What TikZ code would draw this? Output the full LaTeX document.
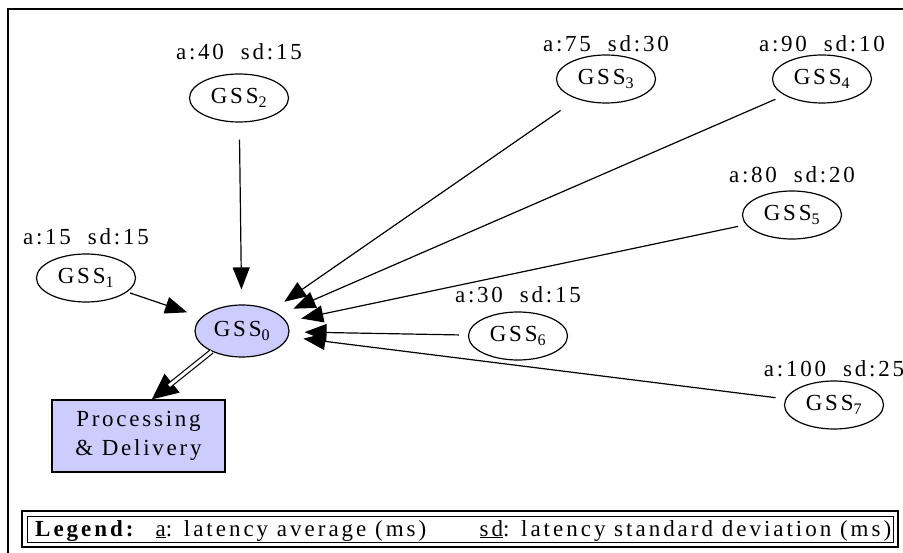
\documentclass[tikz,border=0pt]{standalone}
\usepackage{fontspec}
\setmainfont{Liberation Serif}[LetterSpace=12]
\usetikzlibrary{arrows.meta,positioning,shapes.geometric}
\definecolor{gssblue}{RGB}{204,204,255}

\begin{document}
\begin{tikzpicture}[x=1pt,y=-1pt,
        font=\fontsize{23}{29}\selectfont,
        gss/.style={draw,ellipse,line width=1.2pt,minimum width=99pt,minimum height=48pt,inner sep=0pt},
        stat/.style={inner sep=0pt},
        feed/.style={-{Triangle[length=22pt,width=17pt]},line width=1.2pt,shorten >=15pt}]
        \useasboundingbox (0,0) rectangle (903,553);
        \draw[line width=1.6pt] (8,9) rectangle (930,580);
        % stations
        \node[gss,fill=gssblue,minimum height=52pt,minimum width=94pt] (g0) at (242,331) {GSS\textsubscript{0}};
        \node[gss] (g1) at (86,278) {GSS\textsubscript{1}};
        \node[gss] (g2) at (239,98) {GSS\textsubscript{2}};
        \node[gss] (g3) at (606,79) {GSS\textsubscript{3}};
        \node[gss] (g4) at (822,79) {GSS\textsubscript{4}};
        \node[gss] (g5) at (792,215) {GSS\textsubscript{5}};
        \node[gss] (g6) at (518,336) {GSS\textsubscript{6}};
        \node[gss] (g7) at (834,405) {GSS\textsubscript{7}};
        \node[draw,fill=gssblue,line width=1.2pt,minimum width=173pt,minimum height=72pt,align=center,inner sep=0pt] (proc) at (138.5,436) {Processing\\\& Delivery};
        % latencies
        \node[stat,above=8pt of g1] (s1) {a:15\ \ sd:15};
        \node[stat,above=13pt of g2] (s2) {a:40\ \ sd:15};
        \node[stat,above=2pt of g3] (s3) {a:75\ \ sd:30};
        \node[stat,above=2pt of g4] (s4) {a:90\ \ sd:10};
        \node[stat,above=7pt of g5] (s5) {a:80\ \ sd:20};
        \node[stat,above=8pt of g6] (s6) {a:30\ \ sd:15};
        \node[stat,above=3pt of g7] (s7) {a:100\ \ sd:25};
        % links
        \draw[feed,shorten <=3pt] (g1) -- (g0);
        \draw[feed,shorten <=17pt] (g2) -- (g0);
        \draw[feed,shorten <=20pt] (g3) -- (g0);
        \draw[feed,shorten <=10pt] (g4) -- (g0);
        \draw[feed,shorten <=8pt] (g5) -- (g0);
        \draw[feed,shorten <=9pt] (g6) -- (g0);
        \draw[feed,shorten <=10pt] (g7) -- (g0);
        \draw[line width=1.2pt,-{Triangle[length=26pt,width=24pt]}] (g0.214) -- (proc.70);
        \draw[double,double distance=3pt,line width=1.2pt,shorten >=22pt] (g0.214) -- (proc.70);
        % legend
        \draw[line width=1.8pt] (22,511) rectangle (898,547);
        \draw[line width=1pt] (27,516) rectangle (893,542);
        \node[stat,anchor=base west,font=\fontsize{23}{29}\selectfont\addfontfeatures{LetterSpace=13}] (leg) at (35,536)
          {\makebox[856pt][l]{\textbf{\underline{Legend:}}\hspace{22pt}\underline{a}: latency average (ms)\hfill\underline{sd}: latency standard deviation (ms)}};
\end{tikzpicture}
\end{document}
